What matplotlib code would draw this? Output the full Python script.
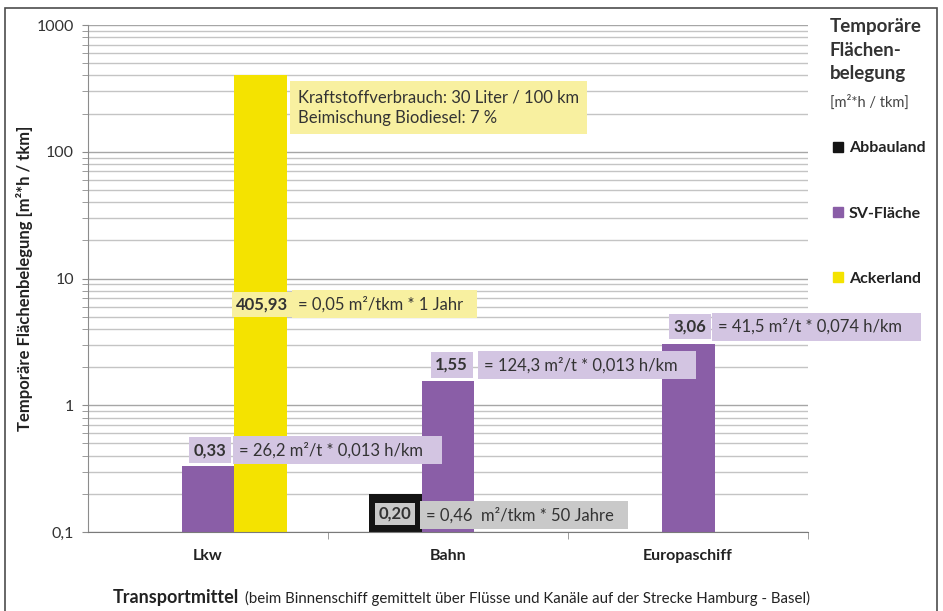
import matplotlib.pyplot as plt
import numpy as np
from matplotlib.patches import Patch, Rectangle
from matplotlib.ticker import FixedLocator, FuncFormatter, NullFormatter

plt.rcParams['font.family'] = ['Lato', 'DejaVu Sans']

# --- data -------------------------------------------------------------------
modes = ['Lkw', 'Bahn', 'Europaschiff']
series = ['Abbauland', 'SV-Fläche', 'Ackerland']
abbauland = [0.0, 0.20, 0.0]
sv_flaeche = [0.33, 1.55, 3.06]
ackerland = [405.93, 0.0, 0.0]

formula_sv = ['= 26,2 m²/t * 0,013 h/km',
              '= 124,3 m²/t * 0,013 h/km',
              '= 41,5 m²/t * 0,074 h/km']
formula_acker = '= 0,05 m²/tkm * 1 Jahr'
formula_abbau = '= 0,46  m²/tkm * 50 Jahre'
note_acker = 'Kraftstoffverbrauch: 30 Liter / 100 km\nBeimischung Biodiesel: 7 %'

colors = {'Abbauland': '#141414', 'SV-Fläche': '#8a5ea7', 'Ackerland': '#f4e300'}
tag_fill = {'Abbauland': '#c9c9c9', 'SV-Fläche': '#d3c5e2', 'Ackerland': '#f8f0a0'}


def de(v):
    return f'{v:.2f}'.replace('.', ',')


fig = plt.figure(figsize=(9.43, 6.11), dpi=100)
ax = fig.add_axes([0.0933, 0.1293, 0.7637, 0.8297])

x = np.arange(len(modes))
w = 0.22
offsets = [-w, 0.0, w]
for off, name, vals in zip(offsets, series, [abbauland, sv_flaeche, ackerland]):
    ax.bar(x + off, vals, width=w, color=colors[name], zorder=2)

ax.set_yscale('log')
ax.set_ylim(0.1, 1000)
ax.set_xlim(-0.5, 2.5)

ax.yaxis.set_major_locator(FixedLocator([0.1, 1, 10, 100, 1000]))
ax.yaxis.set_major_formatter(FuncFormatter(lambda v, p: f'{v:g}'.replace('.', ',')))
minor = [m * 10.0 ** e for e in range(-1, 3) for m in range(2, 10)]
ax.yaxis.set_minor_locator(FixedLocator(minor))
ax.yaxis.set_minor_formatter(NullFormatter())
ax.grid(which='major', axis='y', color='#a6a6a6', lw=1.0, zorder=0)
ax.grid(which='minor', axis='y', color='#c4c4c4', lw=1.0, zorder=0)
ax.tick_params(axis='y', which='both', length=4, color='#8c8c8c',
               labelsize=11.5, labelcolor='#333333', pad=6)

ax.set_xticks(x)
ax.set_xticklabels(modes, fontweight='bold', fontsize=11.5, color='#222222')
ax.set_xticks([0.5, 1.5, 2.5], minor=True)
ax.tick_params(axis='x', which='major', length=0, pad=12)
ax.tick_params(axis='x', which='minor', length=5, color='#8c8c8c')

for side in ['top', 'right']:
    ax.spines[side].set_visible(False)
ax.spines['left'].set_color('#8c8c8c')
ax.spines['bottom'].set_color('#7a7a7a')

ax.set_ylabel('Temporäre Flächenbelegung [m²*h / tkm]', fontweight='bold',
              fontsize=12, color='#222222', labelpad=3)


def tag(xp, yp, s, fc, bold=False, ha='center', pad=0.28, **kw):
    ax.text(xp, yp, s, ha=ha, va='center', fontsize=12, color='#333333',
            fontweight='bold' if bold else 'normal', zorder=4, clip_on=False,
            bbox=dict(boxstyle=f'square,pad={pad}', fc=fc, ec='none'), **kw)


# SV-Fläche value tags and formulas
sv_tag_pos = [(0.010, 0.443), (1.015, 2.08), (2.008, 4.18)]
sv_formula_x = [0.129, 1.150, 2.125]
for (tx, ty), fx, v, f in zip(sv_tag_pos, sv_formula_x, sv_flaeche, formula_sv):
    tag(tx, ty, de(v), tag_fill['SV-Fläche'], bold=True)
    tag(fx, ty, f + '   ', tag_fill['SV-Fläche'], ha='left', pad=0.35)

# Ackerland value tag, formula and note
tag(0.227, 6.27, de(ackerland[0]), tag_fill['Ackerland'], bold=True)
tag(0.375, 6.27, formula_acker + '  ', tag_fill['Ackerland'], ha='left', pad=0.35)
tag(0.375, 223, note_acker + ' ', tag_fill['Ackerland'], ha='left', pad=0.5,
    linespacing=1.35)

# Abbauland value tag sits inside its black bar
tag(0.779, 0.139, de(abbauland[1]), tag_fill['Abbauland'], bold=True, pad=0.2)
tag(0.908, 0.136, formula_abbau + '  ', tag_fill['Abbauland'], ha='left', pad=0.35)

# legend block on the right
fig.text(0.88, 0.97, 'Temporäre\nFlächen-\nbelegung', ha='left', va='top',
         fontsize=13.5, fontweight='bold', color='#333333', linespacing=1.45)
fig.text(0.88, 0.832, '[m²*h / tkm]', ha='left', va='center',
         fontsize=10.5, color='#444444')
handles = [Patch(color=colors[s]) for s in series]
leg = fig.legend(handles, series, loc='upper left', bbox_to_anchor=(0.868, 0.792),
                 frameon=False, handlelength=0.65, handleheight=0.65,
                 handletextpad=0.35, labelspacing=3.2, fontsize=11.5)
for t in leg.get_texts():
    t.set_fontweight('bold')
    t.set_color('#222222')

# axis title below the categories
t1 = fig.text(0.12, 0.013, 'Transportmittel', ha='left', va='baseline',
              fontsize=13, fontweight='bold', color='#222222')
ax.annotate('(beim Binnenschiff gemittelt über Flüsse und Kanäle auf der Strecke Hamburg - Basel)',
            xy=(1, 0), xycoords=t1, xytext=(4, 0), textcoords='offset points',
            ha='left', va='bottom', fontsize=10.8, color='#222222', annotation_clip=False)

fig.patches.append(Rectangle((0.0053, -0.01), 0.9883, 0.997, transform=fig.transFigure,
                             fill=False, ec='#4d4d4d', lw=1.2))

fig.savefig('out.png', dpi=100)
